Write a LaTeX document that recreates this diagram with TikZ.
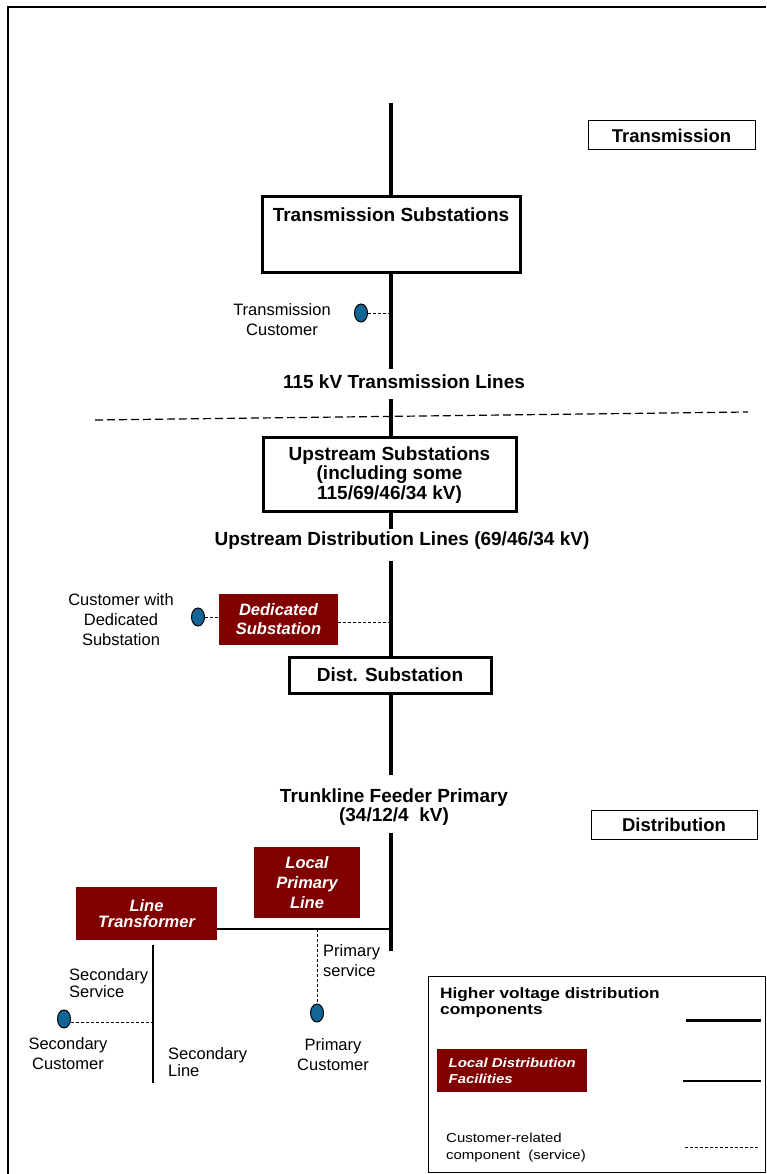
\documentclass[tikz,border=0pt]{standalone}
\usepackage{fontspec}
\setmainfont{Liberation Sans}
\newfontfamily\wideFont[FakeStretch=1.15]{Liberation Sans}
\usetikzlibrary{shapes.geometric,positioning}
\definecolor{colFacility}{RGB}{128,0,0}
\definecolor{colCustomer}{RGB}{18,102,150}

\begin{document}
\begin{tikzpicture}[x=1pt,y=-1pt,
    every node/.style={font=\fontsize{16.5}{20}\selectfont, inner sep=2pt},
    subbox/.style={draw, line width=3pt, align=center, fill=white},
    tagbox/.style={draw, line width=1pt, font=\bfseries\fontsize{18.5}{20}\selectfont},
    facility/.style={fill=colFacility, text=white, align=center, font=\bfseries\itshape\fontsize{16.5}{19}\selectfont},
    cust/.style={draw, ellipse, fill=colCustomer, line width=1pt, minimum width=13pt, minimum height=18pt, inner sep=0pt},
    lbl/.style={align=center, font=\bfseries\fontsize{19}{19.5}\selectfont},
    note/.style={align=center},
    hv/.style={line width=3.5pt},
    local/.style={line width=2pt},
    service/.style={line width=0.8pt, dash pattern=on 3pt off 2pt}
]
    \useasboundingbox (0,0) rectangle (766,1174);
    \draw[line width=1.5pt] (8,1174) -- (8,7) -- (766,7);

    % voltage level tags
    \node[tagbox, minimum width=167pt, minimum height=29pt] (tagT) at (671.5,135.5) {Transmission};
    \node[tagbox, minimum width=166pt, minimum height=29pt] (tagD) at (674,824.5) {Distribution};

    % transmission level
    \coordinate (top) at (391,103);
    \node[subbox, minimum width=258pt, minimum height=75pt] (TS) at (391,234.5) {};
    \node[lbl] (TStext) at (391,215) {Transmission Substations};
    \draw[line width=4pt] (top) -- (TS.north);

    \node[cust] (TC) at (361,313) {};
    \node[note] (TCtext) at (282,320) {Transmission\\Customer};
    \draw[hv] (TS.south) -- ++(0,95);
    \draw[service] (TC.east) -- (TC.east -| TS.south);
    \node[lbl] (L115) at (404,382) {115 kV Transmission Lines};

    % boundary transmission / distribution
    \coordinate (bndL) at (95,420);
    \coordinate (bndR) at (748,412);
    \draw[line width=1.2pt, dash pattern=on 8pt off 4pt] (bndL) -- (bndR);

    % upstream level
    \node[subbox, minimum width=253pt, minimum height=74pt] (US) at (389.5,474) {};
    \node[lbl] (UStext) at (389.5,475) {Upstream Substations\\(including some\\115/69/46/34 kV)};
    \draw[hv] (US.north -| TS.south) -- ++(0,-37);
    \draw[hv] (US.south -| TS.south) -- ++(0,16);
    \node[lbl] (UDL) at (402,541) {Upstream Distribution Lines (69/46/34 kV)};

    % dedicated substation
    \node[subbox, minimum width=202pt, minimum height=36pt, font=\bfseries\fontsize{19}{19}\selectfont] (DS) at (390,675) {Dist. Substation};
    \draw[hv] (DS.north -| TS.south) -- ++(0,-95);
    \node[facility, minimum width=119pt, minimum height=51pt] (DED) at (278.5,619.5) {Dedicated\\Substation};
    \node[cust] (DC) at (198,617) {};
    \node[note] (DCtext) at (121,620) {Customer with\\Dedicated\\Substation};
    \draw[service] (DED.east |- 0,622) -- (TS.south |- 0,622);
    \draw[service] (DC.east) -- (DC.east -| DED.west);

    % distribution feeder
    \node[lbl, font=\bfseries\fontsize{19}{18.5}\selectfont] (TFP) at (394,807) {Trunkline Feeder Primary\\(34/12/4~~kV)};
    \draw[hv] (DS.south -| TS.south) -- ++(0,80);
    \coordinate (bottom) at (391,951);
    \draw[hv] (bottom) -- ++(0,-118);

    \node[facility, minimum width=106pt, minimum height=71pt, font=\bfseries\itshape\fontsize{16.5}{20}\selectfont] (LPL) at (307,882.5) {Local\\Primary\\Line};
    \node[facility, minimum width=141pt, minimum height=53pt, font=\bfseries\itshape\fontsize{16.5}{16.5}\selectfont] (LT) at (146.5,913.5) {Line\\Transformer};
    \coordinate (tap) at (391,929);
    \draw[local] (tap) -- (tap -| LT.east);

    % primary customer
    \node[cust] (PC) at (317,1013) {};
    \draw[service] (PC.north |- tap) -- (PC.north);
    \node[note, align=left, anchor=west] (PStext) at (321,961) {Primary\\service};
    \node[note] (PCtext) at (333,1055) {Primary\\Customer};

    % secondary side
    \coordinate (secTop) at (153,945);
    \coordinate (secBot) at (153,1083);
    \draw[line width=1.2pt] (secTop) -- (secBot);
    \node[cust] (SC) at (64,1019) {};
    \draw[service] (SC.east |- 0,1022) -- (secTop |- 0,1022);
    \node[note, align=left, anchor=west, font=\fontsize{16.5}{17}\selectfont] (SStext) at (67,983.5) {Secondary\\Service};
    \node[note] (SCtext) at (68,1054) {Secondary\\Customer};
    \node[note, align=left, anchor=west, font=\fontsize{16.5}{16.5}\selectfont] (SLtext) at (166,1062) {Secondary\\Line};

    % legend
    \node[draw, line width=1pt, minimum width=337pt, minimum height=196pt] (legend) at (596.5,1074) {};
    \node[align=left, anchor=west, font=\wideFont\bfseries\fontsize{15}{16}\selectfont] (legHV) at (438,1003) {Higher voltage distribution\\components};
    \coordinate (hvA) at (686,1020);
    \coordinate (hvB) at (761,1020);
    \draw[line width=3pt] (hvA) -- (hvB);
    \node[facility, align=left, anchor=west, minimum width=150pt, minimum height=43pt, font=\wideFont\bfseries\itshape\fontsize{13}{16}\selectfont] (legLDF) at (437,1070.5) {Local Distribution\\Facilities};
    \coordinate (ldA) at (683,1081);
    \coordinate (ldB) at (761,1081);
    \draw[line width=1.5pt] (ldA) -- (ldB);
    \node[align=left, anchor=west, font=\wideFont\fontsize{13}{17}\selectfont] (legCR) at (444,1148) {Customer-related\\component~~(service)};
    \coordinate (crA) at (685,1147);
    \coordinate (crB) at (760,1147);
    \draw[service] (crA) -- (crB);
\end{tikzpicture}
\end{document}
